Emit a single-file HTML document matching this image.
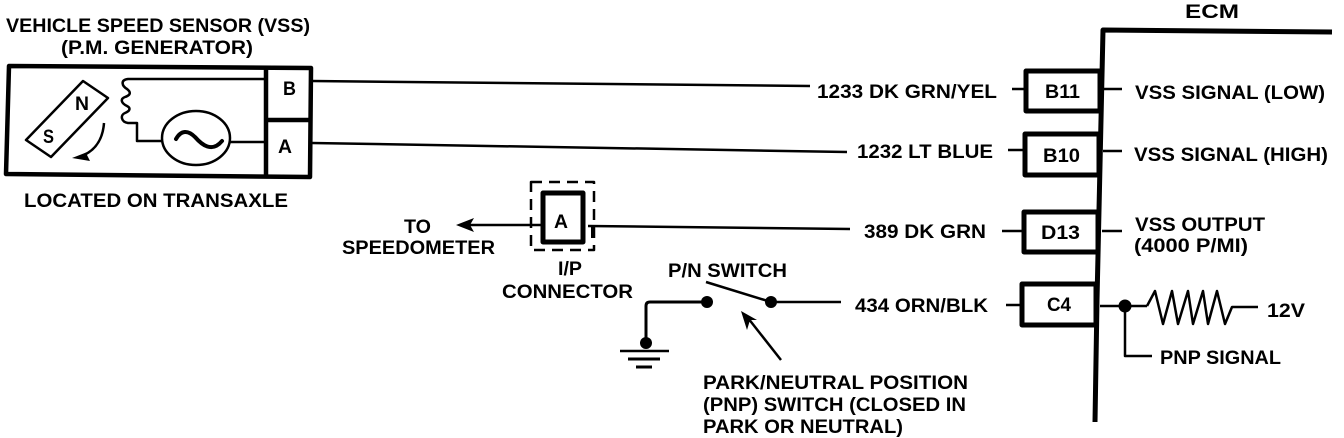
<!DOCTYPE html>
<html><head><meta charset="utf-8"><style>
html,body{margin:0;padding:0;background:#fff;width:1344px;height:438px;overflow:hidden}
svg{display:block}
text{font-family:"Liberation Sans",sans-serif;font-weight:bold;font-size:19px;fill:#000}
.l{fill:none;stroke:#000;stroke-linejoin:round}
</style></head><body>
<svg width="1344" height="438" viewBox="0 0 1344 438" xmlns="http://www.w3.org/2000/svg">
<rect width="1344" height="438" fill="#fff"/>
<!-- sensor -->
<polygon class="l" stroke-width="4.5" points="9,66 311,68 310,177 6,174"/>
<path class="l" stroke-width="4.5" d="M266,68V176M266,120H310"/>
<polygon class="l" stroke-width="2.5" points="83,81 108,98 51,157 26,140"/>
<path class="l" stroke-width="2.5" d="M265,79H128C120,80 122,86 127,89C131,92 131,95 125,97C120,99 121,103 127,106C131,108 130,111 125,113C120,115 121,122 128,123H137V141H162"/>
<ellipse class="l" stroke-width="2.5" cx="196" cy="138" rx="34" ry="27"/>
<path class="l" stroke-width="4" stroke-linecap="round" d="M176,139C181,130 188,130 195,137C202,145 212,153 222,141"/>
<path class="l" stroke-width="2.5" d="M230,142H265"/>
<path class="l" stroke-width="2.5" d="M104,123C103,137 97,149 84,155"/>
<polygon points="72,158 90,151 87,155 90,161"/>
<!-- main wires -->
<path class="l" stroke-width="2.5" d="M312,81L810,86M312,143L847,152M588,226L850,229M771,302H841"/>
<!-- I/P connector -->
<rect class="l" stroke-width="2.5" stroke-dasharray="11 7" x="531" y="182" width="63" height="68"/>
<rect class="l" stroke-width="5" x="543" y="193" width="40" height="49"/>
<path class="l" stroke-width="2.5" d="M542,225H462"/>
<polygon points="456,225 474,218 470,225 474,232"/>
<path class="l" stroke-width="2" d="M588,226H596M592,226V238"/>
<!-- switch -->
<path class="l" stroke-width="3" d="M707,302H650Q646,302 646,306V342"/>
<circle cx="646" cy="343" r="6"/><circle cx="707" cy="302" r="6"/><circle cx="771" cy="302" r="6"/>
<path class="l" stroke-width="2.5" d="M706,282L771,302"/>
<path class="l" stroke-width="2.5" d="M620,351H669"/><path class="l" stroke-width="3" d="M628,359H660M636,367H652"/>
<path class="l" stroke-width="2.5" d="M781,360L748,318"/>
<polygon points="741,311 757,320 750,320 747,330"/>
<!-- ECM -->
<path class="l" stroke-width="5" d="M1095,422L1097,300L1101,120L1103,30L1332,32"/>
<g class="l" stroke-width="5" style="fill:#fff">
<rect x="1026" y="71" width="74" height="40"/>
<rect x="1025" y="134" width="74" height="41"/>
<rect x="1024" y="212" width="74" height="40"/>
<rect x="1022" y="284" width="74" height="41"/>
</g>
<path class="l" stroke-width="2.5" d="M1012,89H1024M1008,150H1023M1002,231H1022M1006,305H1021M1103,89H1122M1103,151H1122M1102,231H1122M1100,306H1147"/>
<circle cx="1125" cy="306" r="6.5"/>
<path class="l" stroke-width="2.5" d="M1125,306V356H1152"/>
<path class="l" stroke-width="2.5" d="M1147,306L1155,291L1163,324L1172,291L1178,324L1188,291L1193,324L1203,291L1208,324L1217,291L1225,324L1232,307H1258"/>
<!-- labels -->
<text x="6" y="32" textLength="304" lengthAdjust="spacingAndGlyphs">VEHICLE SPEED SENSOR (VSS)</text>
<text x="61" y="54" textLength="192" lengthAdjust="spacingAndGlyphs">(P.M. GENERATOR)</text>
<text x="24" y="207" textLength="264" lengthAdjust="spacingAndGlyphs">LOCATED ON TRANSAXLE</text>
<text x="283" y="95" textLength="13" lengthAdjust="spacingAndGlyphs">B</text>
<text x="278" y="153" textLength="14" lengthAdjust="spacingAndGlyphs">A</text>
<text x="75" y="110" textLength="14" lengthAdjust="spacingAndGlyphs">N</text>
<text x="43" y="143" textLength="11" lengthAdjust="spacingAndGlyphs">S</text>
<text x="554" y="228" textLength="14" lengthAdjust="spacingAndGlyphs">A</text>
<text x="404" y="233" textLength="27" lengthAdjust="spacingAndGlyphs">TO</text>
<text x="342" y="254" textLength="153" lengthAdjust="spacingAndGlyphs">SPEEDOMETER</text>
<text x="558" y="275" textLength="24" lengthAdjust="spacingAndGlyphs">I/P</text>
<text x="502" y="298" textLength="131" lengthAdjust="spacingAndGlyphs">CONNECTOR</text>
<text x="817" y="98" textLength="180" lengthAdjust="spacingAndGlyphs">1233 DK GRN/YEL</text>
<text x="857" y="158" textLength="136" lengthAdjust="spacingAndGlyphs">1232 LT BLUE</text>
<text x="864" y="238" textLength="122" lengthAdjust="spacingAndGlyphs">389 DK GRN</text>
<text x="855" y="312" textLength="133" lengthAdjust="spacingAndGlyphs">434 ORN/BLK</text>
<text x="668" y="277" textLength="119" lengthAdjust="spacingAndGlyphs">P/N SWITCH</text>
<text x="703" y="389" textLength="265" lengthAdjust="spacingAndGlyphs">PARK/NEUTRAL POSITION</text>
<text x="703" y="411" textLength="263" lengthAdjust="spacingAndGlyphs">(PNP) SWITCH (CLOSED IN</text>
<text x="703" y="433" textLength="200" lengthAdjust="spacingAndGlyphs">PARK OR NEUTRAL)</text>
<text x="1185" y="18" textLength="54" lengthAdjust="spacingAndGlyphs">ECM</text>
<text x="1045" y="98" textLength="35" lengthAdjust="spacingAndGlyphs">B11</text>
<text x="1043" y="162" textLength="37" lengthAdjust="spacingAndGlyphs">B10</text>
<text x="1041" y="239" textLength="39" lengthAdjust="spacingAndGlyphs">D13</text>
<text x="1047" y="311" textLength="24" lengthAdjust="spacingAndGlyphs">C4</text>
<text x="1135" y="99" textLength="190" lengthAdjust="spacingAndGlyphs">VSS SIGNAL (LOW)</text>
<text x="1134" y="161" textLength="194" lengthAdjust="spacingAndGlyphs">VSS SIGNAL (HIGH)</text>
<text x="1135" y="231" textLength="130" lengthAdjust="spacingAndGlyphs">VSS OUTPUT</text>
<text x="1134" y="252" textLength="114" lengthAdjust="spacingAndGlyphs">(4000 P/MI)</text>
<text x="1267" y="317" textLength="38" lengthAdjust="spacingAndGlyphs">12V</text>
<text x="1160" y="364" textLength="121" lengthAdjust="spacingAndGlyphs">PNP SIGNAL</text>
</svg>
</body></html>
